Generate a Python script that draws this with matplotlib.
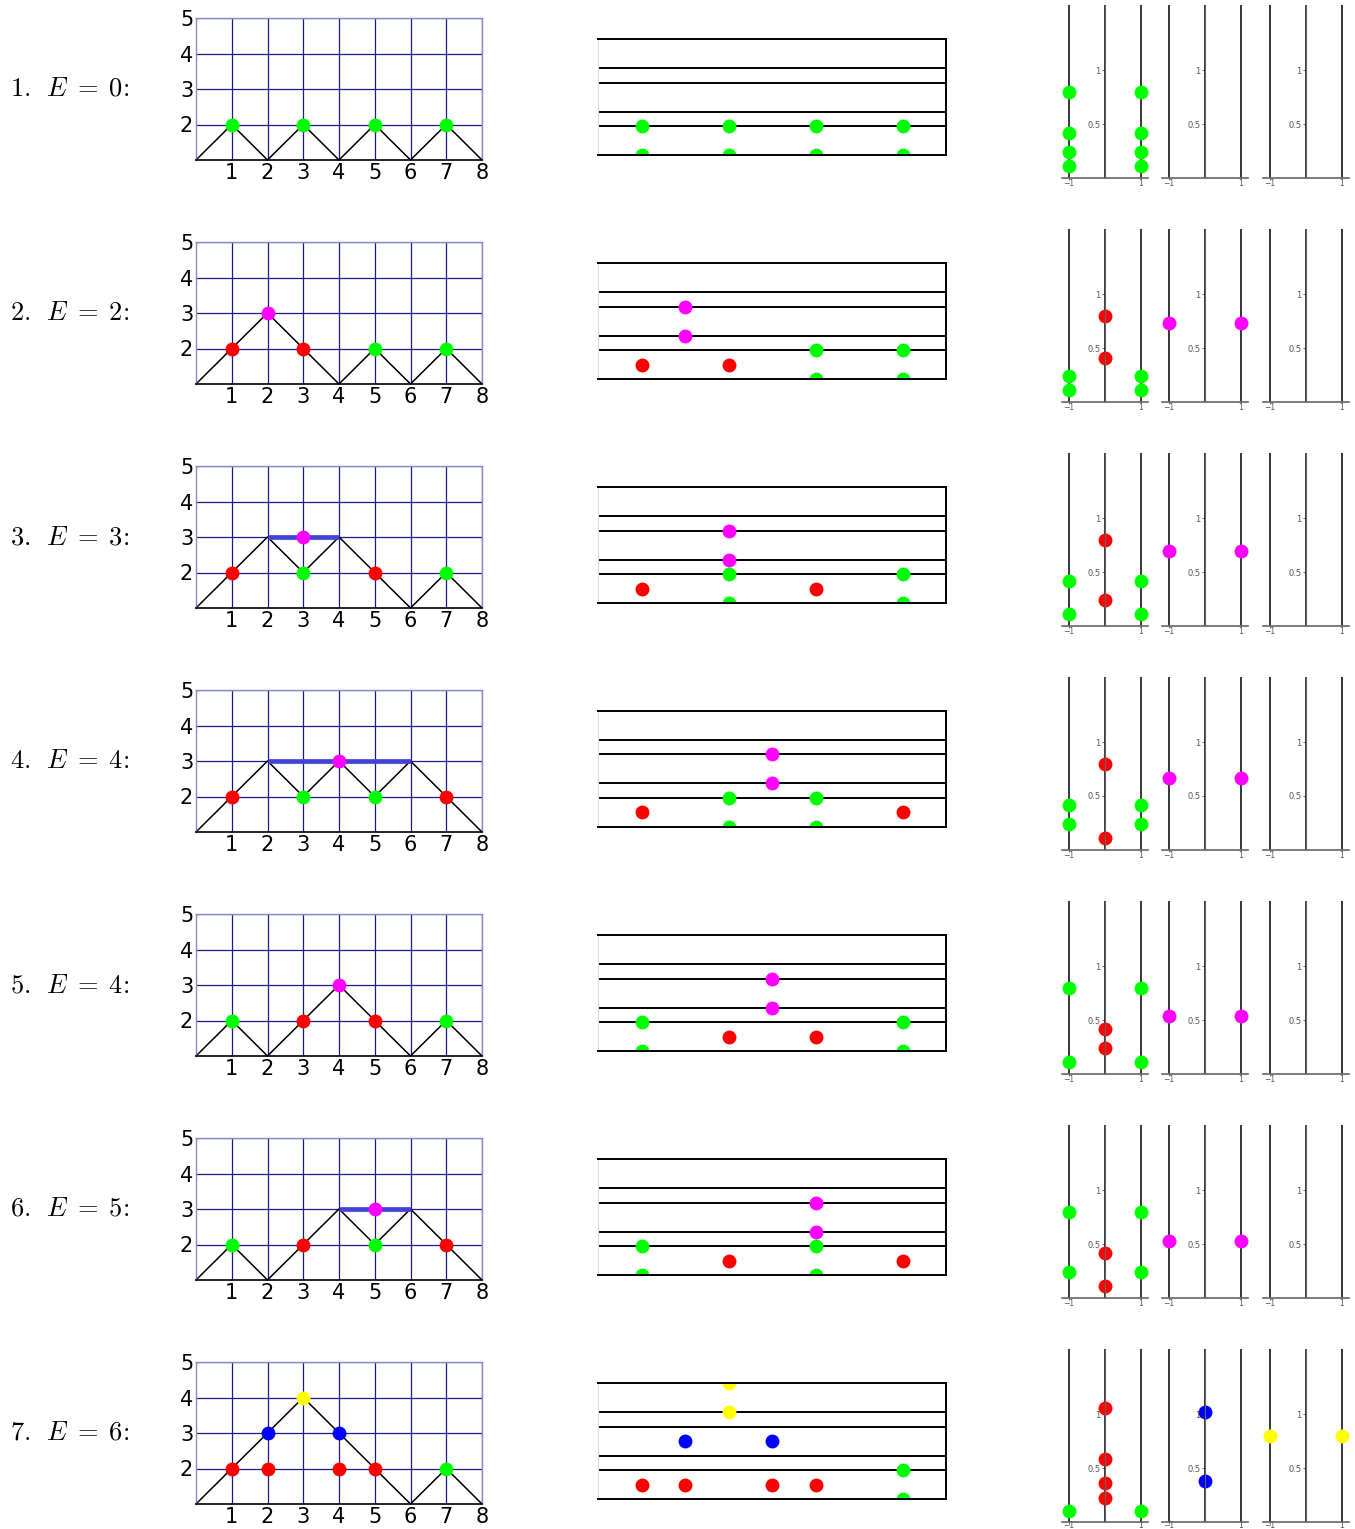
import numpy as np
import matplotlib
matplotlib.use("Agg")
import matplotlib.pyplot as plt

plt.rcParams['mathtext.fontset'] = 'cm'

## data, one entry per row

energies = [0, 2, 3, 4, 4, 5, 6]

# path heights at x = 0..8
paths = [
    [1, 2, 1, 2, 1, 2, 1, 2, 1],
    [1, 2, 3, 2, 1, 2, 1, 2, 1],
    [1, 2, 3, 2, 3, 2, 1, 2, 1],
    [1, 2, 3, 2, 3, 2, 3, 2, 1],
    [1, 2, 1, 2, 3, 2, 1, 2, 1],
    [1, 2, 1, 2, 3, 2, 3, 2, 1],
    [1, 2, 3, 4, 3, 2, 1, 2, 1],
]

# thick horizontal segment at height 3 (x from, x to)
bars = [None, None, (2, 4), (2, 6), None, (4, 6), None]

# dots on the path plot: (x, y, colour)
path_dots = [
    [(1, 2, 'g'), (3, 2, 'g'), (5, 2, 'g'), (7, 2, 'g')],
    [(1, 2, 'r'), (2, 3, 'm'), (3, 2, 'r'), (5, 2, 'g'), (7, 2, 'g')],
    [(1, 2, 'r'), (3, 3, 'm'), (3, 2, 'g'), (5, 2, 'r'), (7, 2, 'g')],
    [(1, 2, 'r'), (3, 2, 'g'), (4, 3, 'm'), (5, 2, 'g'), (7, 2, 'r')],
    [(1, 2, 'g'), (3, 2, 'r'), (4, 3, 'm'), (5, 2, 'r'), (7, 2, 'g')],
    [(1, 2, 'g'), (3, 2, 'r'), (5, 3, 'm'), (5, 2, 'g'), (7, 2, 'r')],
    [(1, 2, 'r'), (2, 2, 'r'), (4, 2, 'r'), (5, 2, 'r'), (2, 3, 'b'),
     (4, 3, 'b'), (3, 4, 'y'), (7, 2, 'g')],
]

# level diagram
levels = [0, 2, 3, 5, 6, 8]
level_dots = [
    [(0.5, 0, 'g'), (0.5, 2, 'g'), (1.5, 0, 'g'), (1.5, 2, 'g'),
     (2.5, 0, 'g'), (2.5, 2, 'g'), (3.5, 0, 'g'), (3.5, 2, 'g')],
    [(0.5, 1, 'r'), (1.5, 1, 'r'), (1.0, 3, 'm'), (1.0, 5, 'm'),
     (2.5, 0, 'g'), (2.5, 2, 'g'), (3.5, 0, 'g'), (3.5, 2, 'g')],
    [(0.5, 1, 'r'), (1.5, 3, 'm'), (1.5, 5, 'm'), (1.5, 0, 'g'), (1.5, 2, 'g'),
     (2.5, 1, 'r'), (3.5, 0, 'g'), (3.5, 2, 'g')],
    [(0.5, 1, 'r'), (1.5, 0, 'g'), (1.5, 2, 'g'), (2.0, 3, 'm'), (2.0, 5, 'm'),
     (2.5, 0, 'g'), (2.5, 2, 'g'), (3.5, 1, 'r')],
    [(0.5, 0, 'g'), (0.5, 2, 'g'), (1.5, 1, 'r'), (2.0, 3, 'm'), (2.0, 5, 'm'),
     (2.5, 1, 'r'), (3.5, 0, 'g'), (3.5, 2, 'g')],
    [(0.5, 0, 'g'), (0.5, 2, 'g'), (1.5, 1, 'r'), (2.5, 3, 'm'), (2.5, 5, 'm'),
     (2.5, 0, 'g'), (2.5, 2, 'g'), (3.5, 1, 'r')],
    [(0.5, 1, 'r'), (1.0, 1, 'r'), (2.0, 1, 'r'), (2.5, 1, 'r'), (1.0, 4, 'b'),
     (2.0, 4, 'b'), (1.5, 6, 'y'), (1.5, 8, 'y'), (3.5, 0, 'g'), (3.5, 2, 'g')],
]

# small panels: (panel, x, y, colour)
panel_dots = [
    [(0, -1, 0.80, 'g'), (0, -1, 0.42, 'g'), (0, -1, 0.24, 'g'), (0, -1, 0.11, 'g'),
     (0, 1, 0.80, 'g'), (0, 1, 0.42, 'g'), (0, 1, 0.24, 'g'), (0, 1, 0.11, 'g')],
    [(0, -1, 0.24, 'g'), (0, -1, 0.11, 'g'), (0, 1, 0.24, 'g'), (0, 1, 0.11, 'g'),
     (0, 0, 0.80, 'r'), (0, 0, 0.41, 'r'), (1, -1, 0.73, 'm'), (1, 1, 0.73, 'm')],
    [(0, -1, 0.42, 'g'), (0, -1, 0.11, 'g'), (0, 1, 0.42, 'g'), (0, 1, 0.11, 'g'),
     (0, 0, 0.80, 'r'), (0, 0, 0.24, 'r'), (1, -1, 0.69, 'm'), (1, 1, 0.69, 'm')],
    [(0, -1, 0.42, 'g'), (0, -1, 0.24, 'g'), (0, 1, 0.42, 'g'), (0, 1, 0.24, 'g'),
     (0, 0, 0.80, 'r'), (0, 0, 0.11, 'r'), (1, -1, 0.67, 'm'), (1, 1, 0.67, 'm')],
    [(0, -1, 0.80, 'g'), (0, -1, 0.11, 'g'), (0, 1, 0.80, 'g'), (0, 1, 0.11, 'g'),
     (0, 0, 0.42, 'r'), (0, 0, 0.24, 'r'), (1, -1, 0.54, 'm'), (1, 1, 0.54, 'm')],
    [(0, -1, 0.80, 'g'), (0, -1, 0.24, 'g'), (0, 1, 0.80, 'g'), (0, 1, 0.24, 'g'),
     (0, 0, 0.42, 'r'), (0, 0, 0.115, 'r'), (1, -1, 0.525, 'm'), (1, 1, 0.525, 'm')],
    [(0, -1, 0.10, 'g'), (0, 1, 0.10, 'g'), (0, 0, 1.06, 'r'), (0, 0, 0.58, 'r'),
     (0, 0, 0.365, 'r'), (0, 0, 0.22, 'r'), (1, 0, 1.02, 'b'), (1, 0, 0.38, 'b'),
     (2, -1, 0.80, 'y'), (2, 1, 0.80, 'y')],
]

COLS = {'g': '#00ff00', 'r': '#ff0000', 'm': '#ff00ff', 'b': '#0000ff', 'y': '#ffff00'}

W, H = 1355, 1529
fig = plt.figure(figsize=(W / 100, H / 100), dpi=100)


def ax_px(x0, y0, x1, y1):
    return fig.add_axes([x0 / W, 1 - y1 / H, (x1 - x0) / W, (y1 - y0) / H])


ROW = 224
GRID = '#1a1a8a'
EDGE = '#8c8cc4'

for i in range(7):
    dy = ROW * i

    # label
    fig.text(10 / W, 1 - (89 + dy) / H,
             r"$%d.\ \,E\;=\;%d\text{:}$" % (i + 1, energies[i]),
             fontsize=19, ha='left', va='center')

    # path plot
    ax = ax_px(196, 18 + dy, 482, 160 + dy)
    ax.set_xlim(0, 8)
    ax.set_ylim(1, 5)
    ax.set_xticks(range(1, 9))
    ax.set_yticks(range(2, 6))
    ax.grid(True, color=GRID, lw=0.9)
    ax.set_axisbelow(True)
    ax.tick_params(length=0, labelsize=15, pad=2)
    for s in ['left', 'top', 'right']:
        ax.spines[s].set_color(EDGE)
        ax.spines[s].set_linewidth(1.0)
    ax.spines['bottom'].set_color('black')
    ax.spines['bottom'].set_linewidth(1.2)
    ax.plot(range(9), paths[i], color='black', lw=1.1, clip_on=False)
    if bars[i] is not None:
        ax.plot(bars[i], [3, 3], color='#4343d6', lw=3.4, solid_capstyle='butt')
    for x, y, c in path_dots[i]:
        ax.plot(x, y, 'o', color=COLS[c], ms=10, mec='none', clip_on=False)

    # level diagram
    ax = ax_px(598, 39 + dy, 946, 155 + dy)
    ax.set_xlim(0, 4)
    ax.set_ylim(0, 8)
    ax.set_xticks([])
    ax.set_yticks([])
    for lv in levels[1:-1]:
        ax.axhline(lv, color='black', lw=1.4)
    for s in ['top', 'right', 'bottom']:
        ax.spines[s].set_color('black')
        ax.spines[s].set_linewidth(1.4)
    ax.spines['left'].set_color('#dddddd')
    for x, y, c in level_dots[i]:
        ax.plot(x, y, 'o', color=COLS[c], ms=10, mec='none')

    # small panels
    xpad = -2.5 if i == 6 else -0.5
    for p, xl in enumerate([1061.8, 1161.8, 1262.8]):
        ax = ax_px(xl, 5.2 + dy, xl + 86.4, 178 + dy)
        ax.set_xlim(-1.2, 1.2)
        ax.set_ylim(0, 1.6)
        ax.spines['left'].set_position(('data', 0))
        ax.spines['top'].set_visible(False)
        ax.spines['right'].set_visible(False)
        ax.spines['left'].set_color('#666666')
        ax.spines['bottom'].set_color('#666666')
        ax.spines['bottom'].set_linewidth(1.2)
        ax.set_xticks([-1, 1])
        ax.set_yticks([0.5, 1])
        ax.set_yticklabels(['0.5', '1'])
        ax.set_xticklabels(['−1', '1'])
        ax.tick_params(labelsize=6, colors='#555555', length=2, width=0.6, pad=1)
        ax.tick_params(axis='x', pad=xpad, length=1.5, labelsize=5.5)
        ax.patch.set_alpha(0)
        for xv in [-1, 0, 1]:
            ax.axvline(xv, color='black', lw=1.1)
        for pp, x, y, c in panel_dots[i]:
            if pp == p:
                ax.plot(x, y, 'o', color=COLS[c], ms=10, mec='none', clip_on=False)

fig.savefig('out.png', dpi=100)
